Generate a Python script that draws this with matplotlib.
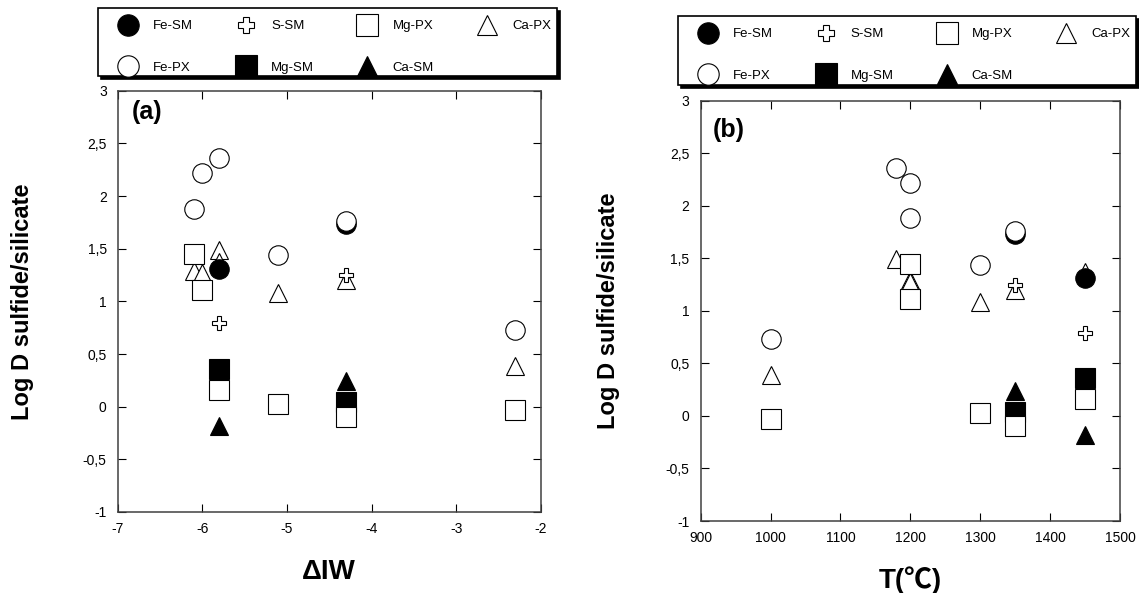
import matplotlib
matplotlib.use("Agg")
import matplotlib.pyplot as plt
from matplotlib.patches import Rectangle
from matplotlib.ticker import FuncFormatter, MultipleLocator

plt.rcParams['font.family'] = ['Liberation Sans', 'DejaVu Sans']
plt.rcParams['axes.unicode_minus'] = False

# data: (delta IW, T in C, log D) per series
fe_sm_iw = [-5.8, -4.3]
fe_sm_t = [1450, 1350]
fe_sm_val = [1.31, 1.73]

fe_px_iw = [-6.1, -6.0, -5.8, -5.1, -4.3, -2.3]
fe_px_t = [1200, 1200, 1180, 1300, 1350, 1000]
fe_px_val = [1.88, 2.22, 2.36, 1.44, 1.76, 0.73]

s_sm_iw = [-5.8, -4.3]
s_sm_t = [1450, 1350]
s_sm_val = [0.79, 1.25]

mg_sm_iw = [-5.8, -4.3]
mg_sm_t = [1450, 1350]
mg_sm_val = [0.36, 0.04]

mg_px_iw = [-6.1, -6.0, -5.8, -5.1, -4.3, -2.3]
mg_px_t = [1200, 1200, 1450, 1300, 1350, 1000]
mg_px_val = [1.45, 1.11, 0.16, 0.03, -0.10, -0.03]

ca_sm_iw = [-5.8, -4.3]
ca_sm_t = [1450, 1350]
ca_sm_val = [-0.18, 0.24]

ca_px_iw = [-6.1, -6.0, -5.8, -5.8, -5.1, -4.3, -2.3]
ca_px_t = [1200, 1200, 1180, 1450, 1300, 1350, 1000]
ca_px_val = [1.29, 1.27, 1.49, 1.37, 1.08, 1.20, 0.39]

ms = 14
mew = 0.8


def comma_fmt(v, pos):
    return ('%g' % v).replace('.', ',')


def draw_panel(ax, which):
    if which == 'a':
        xs = [ca_px_iw, mg_sm_iw, mg_px_iw, fe_sm_iw, fe_px_iw, s_sm_iw, ca_sm_iw]
    else:
        xs = [ca_px_t, mg_sm_t, mg_px_t, fe_sm_t, fe_px_t, s_sm_t, ca_sm_t]
    ys = [ca_px_val, mg_sm_val, mg_px_val, fe_sm_val, fe_px_val, s_sm_val, ca_sm_val]
    styles = [('^', 'white', 13.5, 'Ca-PX'), ('s', 'black', ms, 'Mg-SM'),
              ('s', 'white', ms, 'Mg-PX'), ('o', 'black', ms, 'Fe-SM'),
              ('o', 'white', ms, 'Fe-PX'), ('P', 'white', 10.5, 'S-SM'),
              ('^', 'black', 13.5, 'Ca-SM')]
    handles = {}
    for x, y, (m, fc, size, lab) in zip(xs, ys, styles):
        h, = ax.plot(x, y, ls='none', marker=m, markersize=size,
                     markerfacecolor=fc, markeredgecolor='black',
                     markeredgewidth=mew, label=lab, clip_on=False)
        handles[lab] = h

    ax.set_ylim(-1, 3)
    ax.yaxis.set_major_locator(MultipleLocator(0.5))
    ax.yaxis.set_major_formatter(FuncFormatter(comma_fmt))
    ax.tick_params(direction='in', length=5.5, width=0.8, top=True, right=True,
                   labelsize=10)
    ax.tick_params(axis='y', pad=8)
    ax.tick_params(axis='x', pad=7)
    for s in ax.spines.values():
        s.set_linewidth(1.1)
        s.set_color('#404040')
    ax.set_ylabel('Log D sulfide/silicate', fontsize=17, fontweight='bold',
                  va='center')
    return handles


fig = plt.figure(figsize=(11.39, 5.93), dpi=100)
ax1 = fig.add_axes([0.1034, 0.1366, 0.3713, 0.7104])
ax2 = fig.add_axes([0.6152, 0.1214, 0.3681, 0.7088])

h1 = draw_panel(ax1, 'a')
ax1.set_xlim(-7, -2)
ax1.xaxis.set_major_locator(MultipleLocator(1))
ax1.set_xlabel('ΔIW', fontsize=20, fontweight='bold', va='center')
ax1.xaxis.set_label_coords(0.499, -0.1425)
ax1.yaxis.set_label_coords(-0.225, 0.5)
ax1.text(0.033, 0.95, '(a)', transform=ax1.transAxes, fontsize=18,
         fontweight='bold', va='center', ha='left')

h2 = draw_panel(ax2, 'b')
ax2.set_xlim(900, 1500)
ax2.xaxis.set_major_locator(MultipleLocator(100))
ax2.set_xlabel('T(℃)', fontsize=20, fontweight='bold', va='center',
               family=['Liberation Sans', 'Noto Sans CJK SC', 'DejaVu Sans'])
ax2.xaxis.set_label_coords(0.499, -0.140)
ax2.yaxis.set_label_coords(-0.221, 0.5)
ax2.text(0.029, 0.931, '(b)', transform=ax2.transAxes, fontsize=18,
         fontweight='bold', va='center', ha='left')

# legend boxes: frame drawn by hand (black drop shadow), entries by fig.legend
order = ['Fe-SM', 'Fe-PX', 'S-SM', 'Mg-SM', 'Mg-PX', 'Ca-SM', 'Ca-PX']
W, H = 1139, 593
for hd, (x0, y0, x1, y1), row1 in [(h1, (98, 8, 557, 76), 24),
                                   (h2, (678, 15.5, 1136, 85), 32)]:
    fig.add_artist(Rectangle(((x0 + 3) / W, 1 - (y1 + 3) / H), (x1 - x0) / W,
                             (y1 - y0) / H, transform=fig.transFigure,
                             facecolor='black', edgecolor='black', lw=1.2,
                             zorder=1))
    fig.add_artist(Rectangle((x0 / W, 1 - y1 / H), (x1 - x0) / W,
                             (y1 - y0) / H, transform=fig.transFigure,
                             facecolor='white', edgecolor='black', lw=1.2,
                             zorder=1.5))
    top = row1 - 10
    box = (x0 / W, 1 - (top + 60) / H, (x1 - x0) / W, 60 / H)
    leg = fig.legend([hd[k] for k in order], order, ncol=4, mode='expand',
                     bbox_to_anchor=box, loc='upper left', fontsize=9.5,
                     frameon=False, borderaxespad=0,
                     handlelength=3.6, handletextpad=0.1, labelspacing=2.23,
                     borderpad=0.45, columnspacing=1.0, markerscale=1.1)
    leg.set_zorder(5)

fig.savefig('out.png', dpi=100)
